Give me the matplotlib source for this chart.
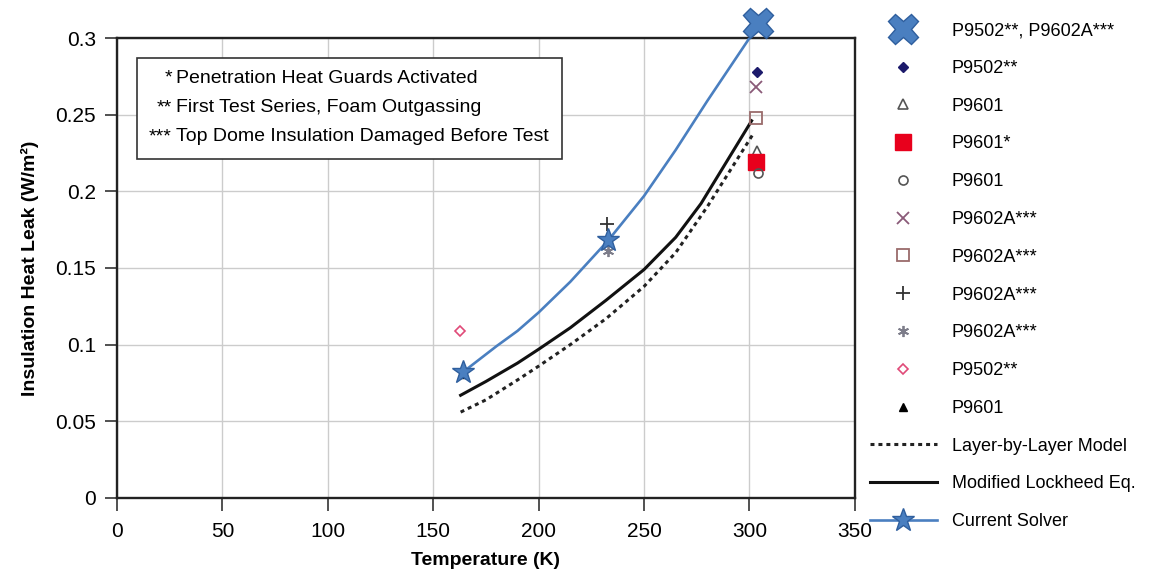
"""Insulation heat leak versus temperature: test data, models and current solver."""

import matplotlib

matplotlib.use("Agg")
import matplotlib.pyplot as plt
from matplotlib.lines import Line2D
from matplotlib.patches import Rectangle

plt.rcParams["font.family"] = ["Liberation Sans", "DejaVu Sans"]

# test points (temperature K, heat leak W/m2)
big_x_t, big_x_q = [304], [0.310]
p9502_dia_t, p9502_dia_q = [303.5], [0.278]
p9601_tri_t, p9601_tri_q = [303.5], [0.226]
p9601s_sq_t, p9601s_sq_q = [303], [0.219]
p9601_circ_t, p9601_circ_q = [304], [0.212]
p9602_x_t, p9602_x_q = [303], [0.268]
p9602_sq_t, p9602_sq_q = [303], [0.248]
p9602_plus_t, p9602_plus_q = [232.5], [0.179]
p9602_ast_t, p9602_ast_q = [233], [0.161]
p9502_odia_t, p9502_odia_q = [162.5], [0.109]
p9601_ftri_t, p9601_ftri_q = [163.5], [0.081]

# model curves
layer_t = [163, 175, 190, 200, 215, 232, 250, 265, 280, 302]
layer_q = [0.056, 0.064, 0.077, 0.086, 0.100, 0.117, 0.138, 0.160, 0.190, 0.238]
lockheed_t = [163, 175, 190, 200, 215, 232, 250, 265, 277, 301]
lockheed_q = [0.067, 0.076, 0.088, 0.097, 0.111, 0.129, 0.149, 0.170, 0.192, 0.246]
solver_t = [164, 180, 190, 200, 215, 233, 250, 265, 280, 300, 304]
solver_q = [0.082, 0.099, 0.109, 0.121, 0.141, 0.168, 0.197, 0.227, 0.259, 0.300, 0.310]
solver_marks = [0, 5, 10]

x_ticks = [0, 50, 100, 150, 200, 250, 300, 350]
y_ticks = [0, 0.05, 0.1, 0.15, 0.2, 0.25, 0.3]
y_tick_labels = ["0", "0.05", "0.1", "0.15", "0.2", "0.25", "0.3"]

notes_stars = ["*", "**", "***"]
notes_text = [
    "Penetration Heat Guards Activated",
    "First Test Series, Foam Outgassing",
    "Top Dome Insulation Damaged Before Test",
]

BLUE = "#4a7fc0"
BLUE_DARK = "#2f5f9e"

fig = plt.figure(figsize=(11.57, 5.84), dpi=100)
ax = fig.add_axes([0.1011, 0.1473, 0.6378, 0.7876])

ax.plot(layer_t, layer_q, color="#222222", lw=2.2, ls=(0, (1.3, 1.3)), zorder=3)
ax.plot(lockheed_t, lockheed_q, color="#111111", lw=2.2, zorder=3)

# scatter series, drawn as marker-only lines
series = [
    (p9502_dia_t, p9502_dia_q, dict(marker="D", ms=5, mfc="#1c1a6b", mec="#1c1a6b")),
    (p9601_tri_t, p9601_tri_q, dict(marker="^", ms=7, mfc="none", mec="#555555", mew=1.2)),
    (p9601s_sq_t, p9601s_sq_q, dict(marker="s", ms=11, mfc="#e8001c", mec="#e8001c")),
    (p9601_circ_t, p9601_circ_q, dict(marker="o", ms=6.5, mfc="none", mec="#555555", mew=1.2)),
    (p9602_x_t, p9602_x_q, dict(marker="x", ms=8, mec="#8a5a78", mew=1.3)),
    (p9602_sq_t, p9602_sq_q, dict(marker="s", ms=8.5, mfc="none", mec="#9a6b6b", mew=1.3)),
    (p9602_plus_t, p9602_plus_q, dict(marker="+", ms=10, mec="#333333", mew=1.3)),
    (p9602_ast_t, p9602_ast_q, dict(marker=(6, 2, 0), ms=8, mec="#7d7d8a", mew=1.3)),
    (p9502_odia_t, p9502_odia_q, dict(marker="D", ms=5, mfc="none", mec="#e04a78", mew=1.2)),
    (p9601_ftri_t, p9601_ftri_q, dict(marker="^", ms=6, mfc="black", mec="black")),
]
handles = [Line2D([], [], ls="none", marker="X", ms=22, mfc=BLUE, mec=BLUE_DARK, mew=1.0)]
for t, q, style in series:
    ax.plot(t, q, ls="none", zorder=4, **style)
    handles.append(Line2D([], [], ls="none", **style))

ax.plot(solver_t, solver_q, color=BLUE, lw=1.9, marker="*", ms=17, mfc=BLUE, mec=BLUE_DARK,
        markevery=solver_marks, zorder=5)
ax.plot(big_x_t, big_x_q, ls="none", marker="X", ms=22, mfc=BLUE, mec=BLUE_DARK, mew=1.0,
        clip_on=False, zorder=6)

handles += [
    Line2D([], [], color="#222222", lw=2.2, ls=(0, (1.3, 1.3))),
    Line2D([], [], color="#111111", lw=2.2),
    Line2D([], [], color=BLUE, lw=1.9, marker="*", ms=17, mfc=BLUE, mec=BLUE_DARK),
]
labels = [
    "P9502**, P9602A***", "P9502**", "P9601", "P9601*", "P9601", "P9602A***",
    "P9602A***", "P9602A***", "P9602A***", "P9502**", "P9601",
    "Layer-by-Layer Model", "Modified Lockheed Eq.", "Current Solver",
]
fig.legend(handles, labels, loc="upper left", bbox_to_anchor=(0.752, 0.962),
           frameon=False, fontsize=13, labelspacing=1.15, handlelength=3.7,
           handletextpad=0.83, borderpad=0, borderaxespad=0)

ax.set_xlim(0, 350)
ax.set_ylim(0, 0.3)
ax.set_xticks(x_ticks)
ax.set_yticks(y_ticks)
ax.set_yticklabels(y_tick_labels)
ax.grid(True, color="#cccccc", lw=1.0)
ax.set_axisbelow(True)
ax.tick_params(labelsize=15, length=9, width=1.2, color="#333333", pad=6, direction="out")
ax.tick_params(axis="x", pad=8)
for spine in ax.spines.values():
    spine.set_linewidth(1.7)
    spine.set_color("#222222")
ax.set_xlabel("Temperature (K)", fontsize=14, fontweight="bold", labelpad=8)
ax.set_ylabel("Insulation Heat Leak (W/m²)", fontsize=14, fontweight="bold", labelpad=12)

# note box
ax.add_patch(Rectangle((0.0271, 0.737), 0.576, 0.2195, transform=ax.transAxes,
                       fill=True, fc="white", ec="#333333", lw=1.2, zorder=5))
for row, (stars, text) in enumerate(zip(notes_stars, notes_text)):
    y = 0.913 - row * 0.064
    ax.text(0.0745, y, stars, transform=ax.transAxes, ha="right", va="center",
            fontsize=14, zorder=6)
    ax.text(0.0795, y, text, transform=ax.transAxes, ha="left", va="center",
            fontsize=14, zorder=6)

fig.savefig("out.png", dpi=100)
